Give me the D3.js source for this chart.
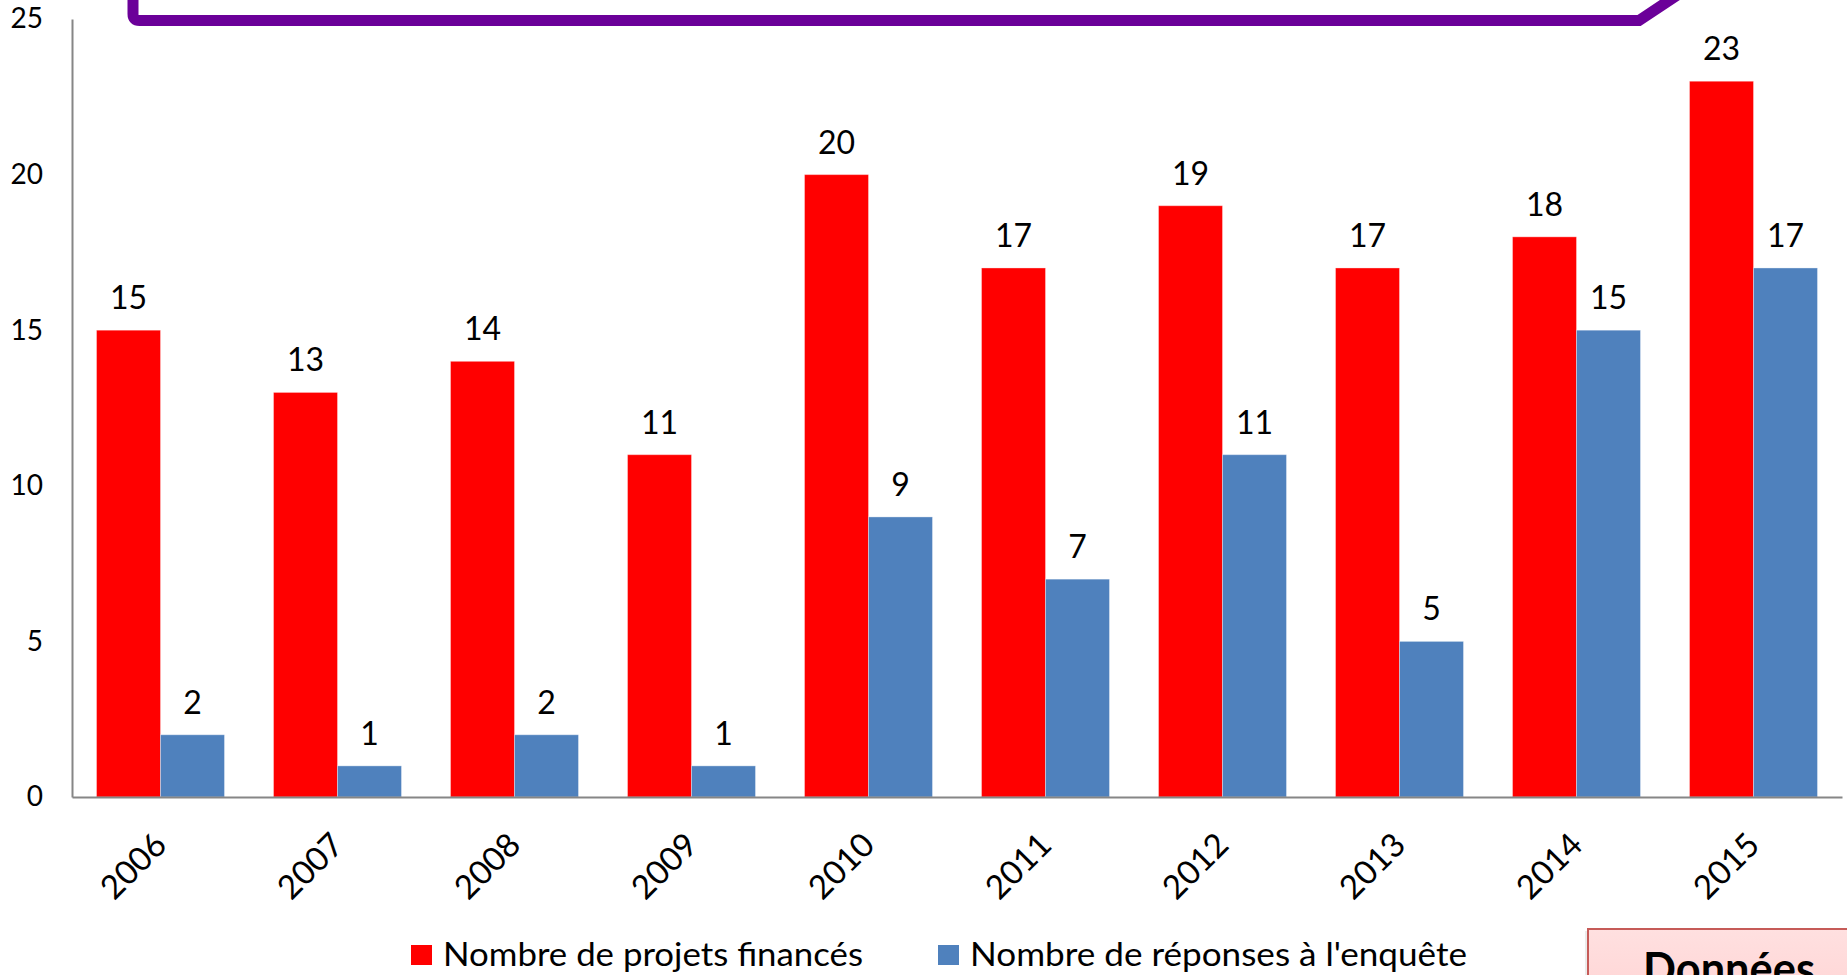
<!DOCTYPE html>
<meta charset="utf-8">
<style>
  body { margin: 0; background: #fff; }
  svg { display: block; font-family: Lato, "Open Sans", sans-serif; }
  .axis path { stroke: #868686; stroke-width: 2px; fill: none; }
  .axis text { fill: #000; }
</style>
<div class="chart"></div>
<script src="https://cdn.jsdelivr.net/npm/d3@7"></script>
<script>
  // chart data
  var years = ["2006","2007","2008","2009","2010","2011","2012","2013","2014","2015"];
  var projetsFinances = [15,13,14,11,20,17,19,17,18,23];
  var reponsesEnquete = [2,1,2,1,9,7,11,5,15,17];
  var seriesNames = ["Nombre de projets financés", "Nombre de réponses à l'enquête"];
  var seriesColors = ["#ff0000", "#4f81bd"];
  var yTicks = [0,5,10,15,20,25];

  var W = 1847, H = 975;
  var plotLeft = 72, plotRight = 1842, plotTop = 19, plotBottom = 797;

  var rows = years.map(function(y, i){
    return {year: y, values: [projetsFinances[i], reponsesEnquete[i]]};
  });

  var svg = d3.select(".chart").append("svg")
    .attr("width", W).attr("height", H);

  var x0 = d3.scaleBand()
    .domain(years)
    .range([plotLeft, plotRight])
    .paddingInner(0.277).paddingOuter(0.1385);

  var x1 = d3.scaleBand()
    .domain([0,1])
    .range([0, x0.bandwidth()]);

  var y = d3.scaleLinear()
    .domain([0,25])
    .range([plotBottom, plotTop]);

  // purple callout frame (cut off at the top)
  svg.append("path")
    .attr("d", "M133,-30 L133,14 Q133,20.5 139.5,20.5 L1639,20.5 L1700,-20")
    .attr("fill", "none")
    .attr("stroke", "#6b0099")
    .attr("stroke-width", 11)
    .attr("stroke-linejoin", "miter");

  // y axis
  var yAxis = d3.axisLeft(y).tickValues(yTicks).tickSize(0).tickSizeOuter(0).tickPadding(29);
  svg.append("g")
    .attr("class", "y axis")
    .attr("transform", "translate(" + plotLeft + ",0)")
    .call(yAxis)
    .selectAll("text")
    .attr("font-size", "28px")
    .attr("font-family", "Lato, sans-serif");

  // bars
  var groups = svg.append("g").selectAll("g")
    .data(rows).enter().append("g")
    .attr("transform", function(d){ return "translate(" + x0(d.year) + ",0)"; });

  groups.selectAll("rect")
    .data(function(d){ return d.values; })
    .enter().append("rect")
    .attr("x", function(d, i){ return x1(i); })
    .attr("y", function(d){ return y(d); })
    .attr("width", x1.bandwidth())
    .attr("height", function(d){ return plotBottom - y(d); })
    .attr("fill", function(d, i){ return seriesColors[i]; })
    .attr("stroke", "rgba(255,255,255,0.35)")
    .attr("stroke-width", 1);

  // value labels
  groups.selectAll("text")
    .data(function(d){ return d.values; })
    .enter().append("text")
    .attr("x", function(d, i){ return x1(i) + x1.bandwidth()/2; })
    .attr("y", function(d){ return y(d) - 21; })
    .attr("text-anchor", "middle")
    .attr("font-size", "32px")
    .text(function(d){ return d; });

  // x axis
  var xAxis = d3.axisBottom(x0).tickSize(0).tickSizeOuter(0).tickPadding(0);
  svg.append("g")
    .attr("class", "x axis")
    .attr("transform", "translate(0," + plotBottom + ")")
    .call(xAxis)
    .selectAll("text")
    .attr("font-size", "33px")
    .attr("font-family", "Lato, sans-serif")
    .attr("dy", null)
    .attr("y", 0)
    .style("text-anchor", "end")
    .attr("transform", "translate(8,50) rotate(-45)");

  // legend
  var legX = [411, 938], legTextLen = [420, 497];
  var legend = svg.append("g").attr("class", "legend");
  legend.selectAll("rect")
    .data(seriesNames).enter().append("rect")
    .attr("x", function(d, i){ return legX[i]; })
    .attr("y", 945)
    .attr("width", 21).attr("height", 20)
    .attr("fill", function(d, i){ return seriesColors[i]; });
  legend.selectAll("text")
    .data(seriesNames).enter().append("text")
    .attr("x", function(d, i){ return legX[i] + 32; })
    .attr("y", 966)
    .attr("font-size", "33px")
    .attr("textLength", function(d, i){ return legTextLen[i]; })
    .attr("lengthAdjust", "spacingAndGlyphs")
    .text(function(d){ return d; });

  // "Données" box, cut off at the bottom right
  var defs = svg.append("defs");
  var grad = defs.append("linearGradient").attr("id", "pink").attr("x1", 0).attr("y1", 0).attr("x2", 0).attr("y2", 1);
  grad.append("stop").attr("offset", "0%").attr("stop-color", "#ffe0e0");
  grad.append("stop").attr("offset", "100%").attr("stop-color", "#ffd0d0");
  svg.append("rect")
    .attr("x", 1585).attr("y", 931)
    .attr("width", 300).attr("height", 100)
    .attr("fill", "#000").attr("opacity", 0.08);
  svg.append("rect")
    .attr("x", 1588).attr("y", 929)
    .attr("width", 300).attr("height", 100)
    .attr("fill", "url(#pink)")
    .attr("stroke", "#c65b58")
    .attr("stroke-width", 2);
  svg.append("text")
    .attr("x", 1729).attr("y", 985)
    .attr("text-anchor", "middle")
    .attr("font-size", "45px")
    .attr("font-weight", "bold")
    .attr("textLength", 172)
    .attr("lengthAdjust", "spacingAndGlyphs")
    .text("Données");
</script>
